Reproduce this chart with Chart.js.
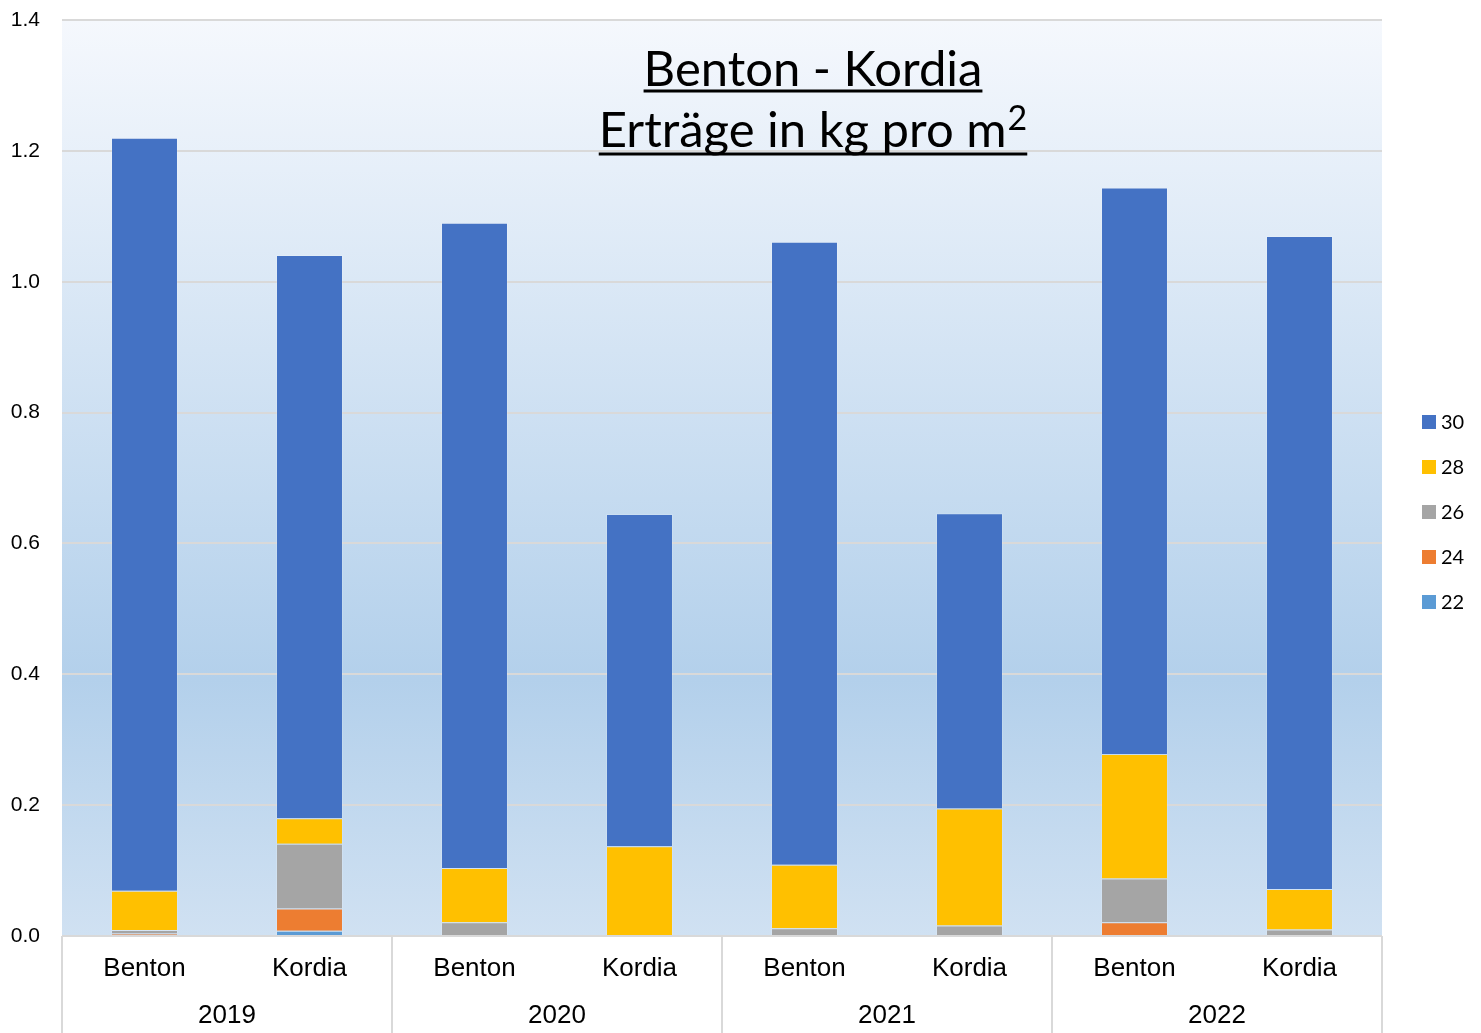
<!DOCTYPE html>
<html>
<head>
<meta charset="utf-8">
<script src="https://cdn.jsdelivr.net/npm/chart.js@4.4.0/dist/chart.umd.min.js"></script>
<style>
  html, body { margin: 0; padding: 0; background: #fff; }
  #wrap { width: 1481px; height: 1033px; }
</style>
</head>
<body>
<div id="wrap"><canvas id="c" width="1481" height="1033"></canvas></div>
<script>
// categories (two-level axis)
const varieties = ['Benton', 'Kordia', 'Benton', 'Kordia', 'Benton', 'Kordia', 'Benton', 'Kordia'];
const years = ['2019', '2020', '2021', '2022'];

// series, bottom to top (kg pro m²)
const seriesNames = ['22', '24', '26', '28', '30'];
const s22 = [0.002, 0.008, 0, 0, 0, 0, 0, 0];
const s24 = [0.002, 0.034, 0, 0, 0, 0, 0.021, 0];
const s26 = [0.005, 0.099, 0.021, 0, 0.012, 0.016, 0.067, 0.010];
const s28 = [0.060, 0.039, 0.083, 0.137, 0.097, 0.179, 0.190, 0.062];
const s30 = [1.151, 0.861, 0.986, 0.508, 0.952, 0.451, 0.866, 0.998];

const yTicks = [0, 0.2, 0.4, 0.6, 0.8, 1.0, 1.2, 1.4];

const colors = ['#5b9bd5', '#ed7d31', '#a5a5a5', '#ffc000', '#4472c4'];
const allSeries = [s22, s24, s26, s28, s30];

const datasets = allSeries.map((d, i) => ({
  label: seriesNames[i],
  data: d,
  backgroundColor: colors[i],
  borderColor: 'rgba(255,255,255,0.15)',
  borderWidth: 1,
  barPercentage: 0.406,
  categoryPercentage: 1
}));

const plotBg = {
  id: 'plotBg',
  beforeDraw(chart) {
    const { ctx, chartArea: a } = chart;
    const g = ctx.createLinearGradient(0, a.top, 0, a.bottom);
    g.addColorStop(0, '#f5f8fd');
    g.addColorStop(0.72, '#b3d0eb');
    g.addColorStop(1, '#d0e1f2');
    ctx.save();
    ctx.fillStyle = g;
    ctx.fillRect(a.left, a.top, a.right - a.left, a.bottom - a.top);
    ctx.restore();
  }
};

const extras = {
  id: 'extras',
  afterDraw(chart) {
    const { ctx, chartArea: a } = chart;
    const groupW = (a.right - a.left) / years.length;
    ctx.save();
    // group separators below the plot
    ctx.strokeStyle = '#d9d9d9';
    ctx.lineWidth = 2;
    for (let i = 0; i <= years.length; i++) {
      const x = a.left + i * groupW;
      ctx.beginPath();
      ctx.moveTo(x, a.bottom);
      ctx.lineTo(x, chart.height);
      ctx.stroke();
    }
    // years
    ctx.fillStyle = '#000';
    ctx.font = '26px "Liberation Sans", Arial, sans-serif';
    ctx.textAlign = 'center';
    ctx.textBaseline = 'middle';
    years.forEach((y, i) => ctx.fillText(y, a.left + (i + 0.5) * groupW, 1016));

    // title
    const tx = 813;
    const big = '49px Lato, "Open Sans", sans-serif';
    const sup = '34px Lato, "Open Sans", sans-serif';
    ctx.textBaseline = 'alphabetic';
    ctx.font = big;
    const t1 = 'Benton - Kordia';
    ctx.fillText(t1, tx, 86);
    let w = ctx.measureText(t1).width;
    ctx.fillRect(tx - w / 2, 89.5, w, 3);

    const t2 = 'Erträge in kg pro m';
    const w2 = ctx.measureText(t2).width;
    ctx.font = sup;
    const ws = ctx.measureText('2').width;
    const total = w2 + ws + 1;
    const x0 = tx - total / 2;
    ctx.textAlign = 'left';
    ctx.font = big;
    ctx.fillText(t2, x0, 147);
    ctx.font = sup;
    ctx.fillText('2', x0 + w2 + 1, 130);
    ctx.fillRect(x0, 152.5, total, 3);

    // legend (reversed, top = 30)
    ctx.font = '20px Lato, "Open Sans", sans-serif';
    ctx.textAlign = 'left';
    ctx.textBaseline = 'middle';
    const order = datasets.slice().reverse();
    order.forEach((ds, i) => {
      const cy = 422 + i * 45;
      ctx.fillStyle = ds.backgroundColor;
      ctx.fillRect(1422, cy - 7, 14, 14);
      ctx.fillStyle = '#000';
      ctx.fillText(ds.label, 1441, cy + 1);
    });
    ctx.restore();
  }
};

new Chart(document.getElementById('c'), {
  type: 'bar',
  data: { labels: varieties, datasets },
  options: {
    responsive: false,
    animation: false,
    layout: { padding: { top: 20, right: 99, left: 0, bottom: 0 } },
    plugins: {
      legend: { display: false },
      tooltip: { enabled: false },
      title: { display: false }
    },
    scales: {
      x: {
        stacked: true,
        grid: { display: false },
        border: { display: false },
        ticks: {
          color: '#000',
          padding: 9,
          font: { family: '"Liberation Sans", Arial, sans-serif', size: 26 }
        },
        afterFit(scale) { scale.height = 97; }
      },
      y: {
        stacked: true,
        min: 0,
        max: 1.4,
        afterBuildTicks(scale) { scale.ticks = yTicks.map(v => ({ value: v })); },
        grid: { color: '#d9d9d9', lineWidth: 2, drawTicks: false },
        border: { display: false },
        ticks: {
          color: '#000',
          padding: 22,
          font: { family: '"Liberation Sans", Arial, sans-serif', size: 21 },
          callback: v => v.toFixed(1)
        },
        afterFit(scale) {
          scale.width = 62;
          scale.paddingTop = 0;
          scale.paddingBottom = 0;
        }
      }
    }
  },
  plugins: [plotBg, extras]
});
</script>
</body>
</html>
